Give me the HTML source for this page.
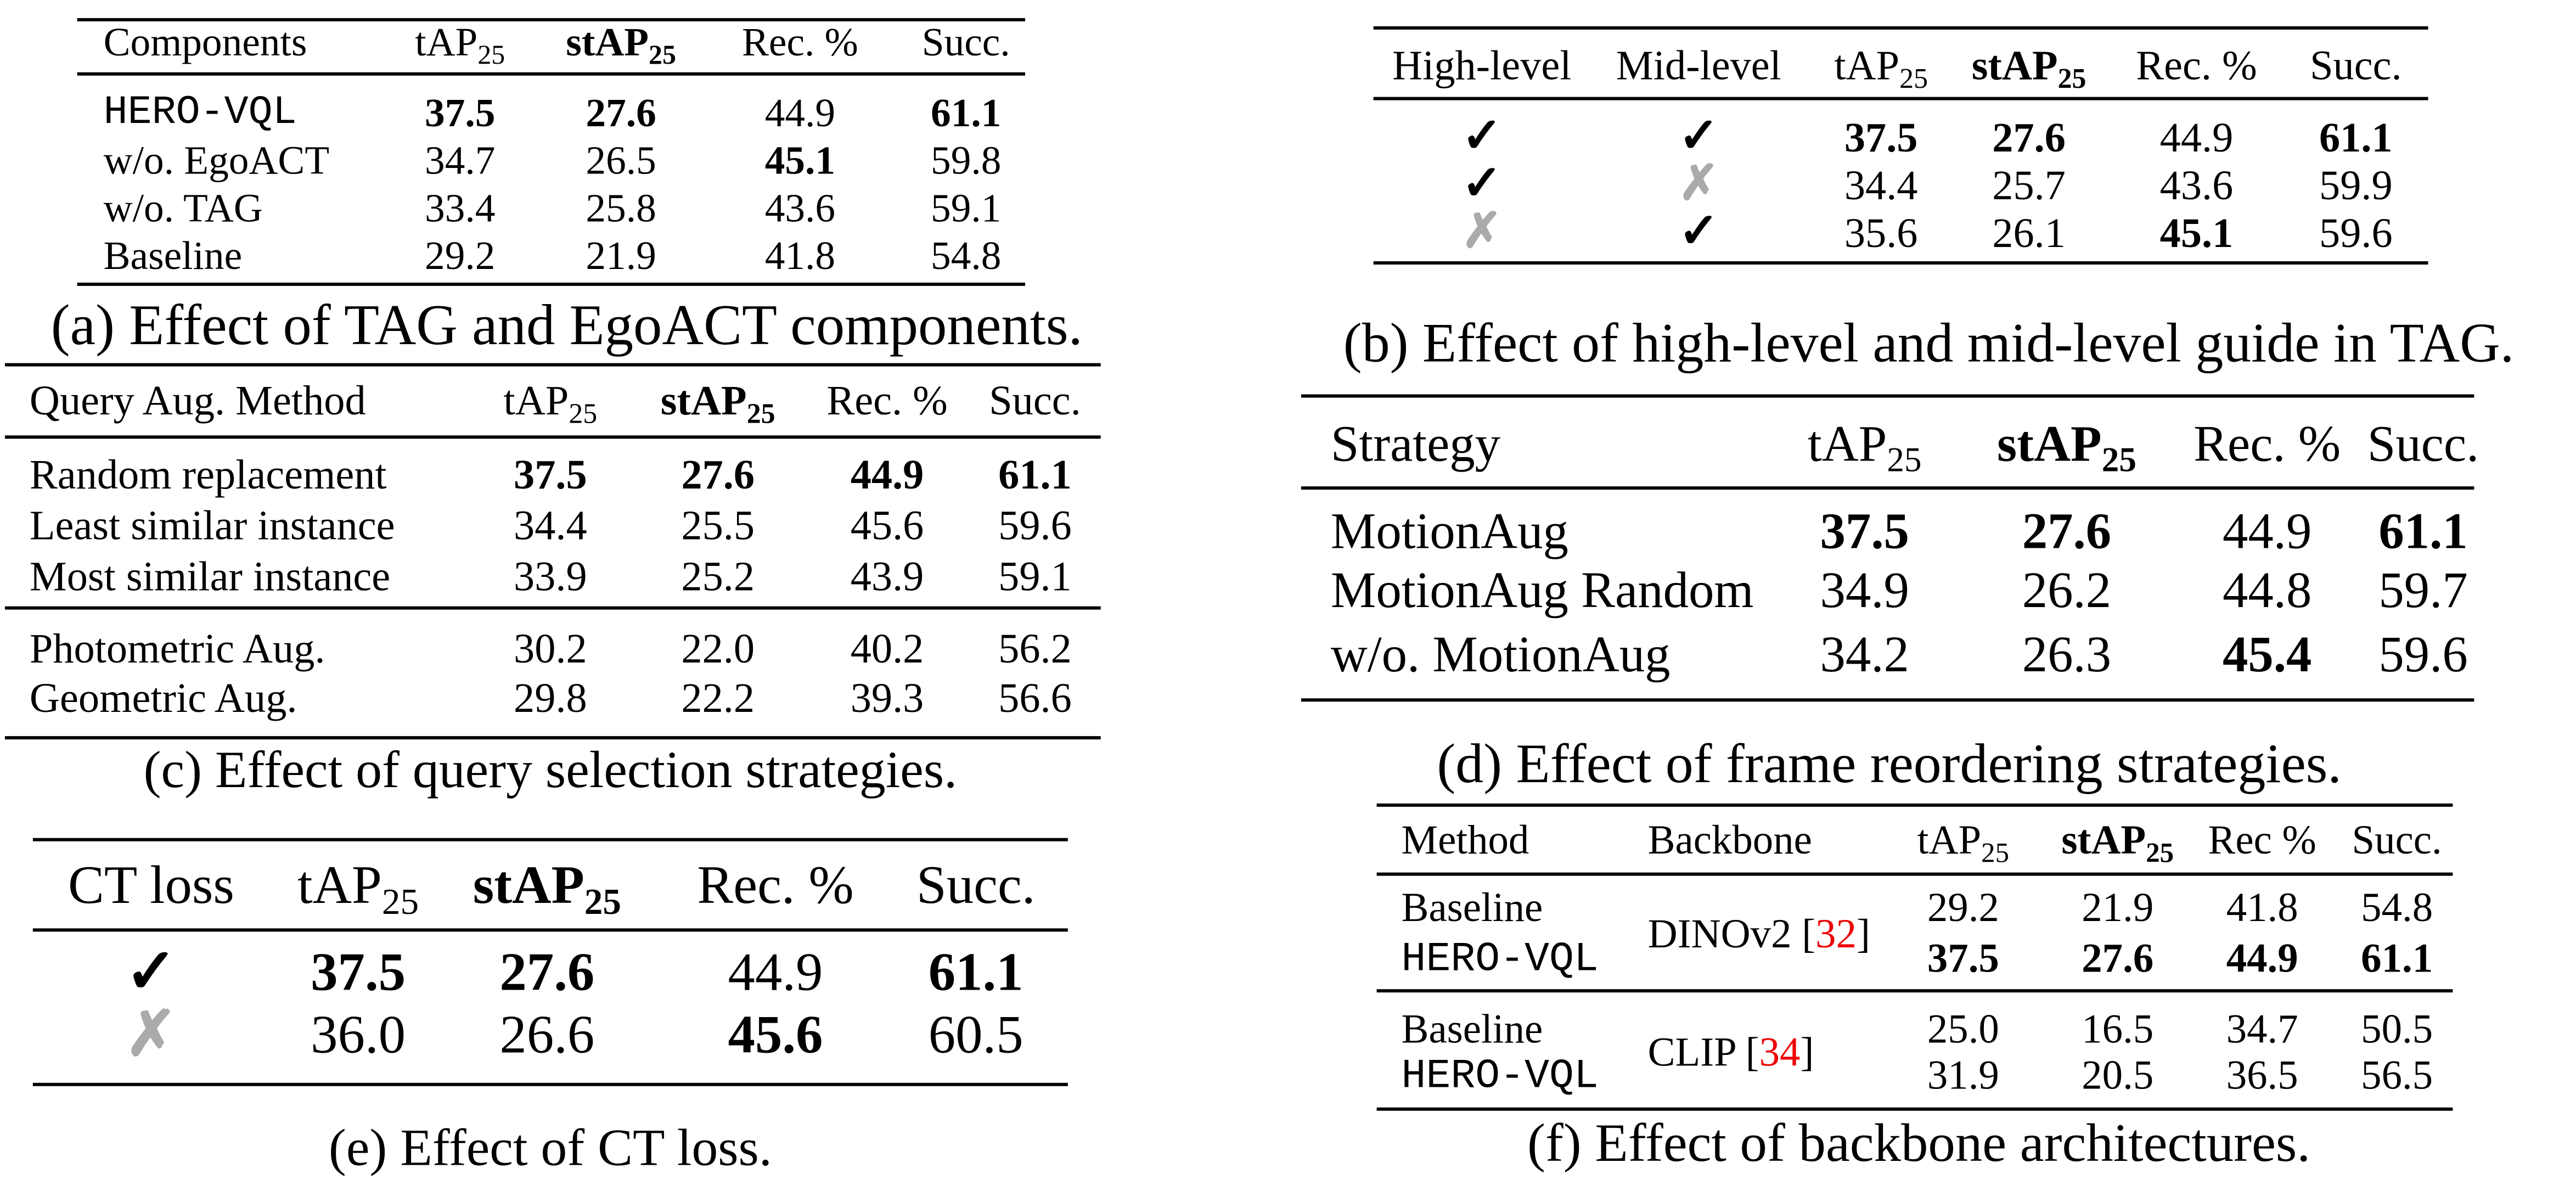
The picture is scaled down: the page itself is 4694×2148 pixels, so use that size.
<!DOCTYPE html>
<html><head><meta charset="utf-8">
<style>
html,body{margin:0;padding:0;background:#fff;}
body{width:4694px;height:2148px;overflow:hidden;position:relative;}
#stage{position:absolute;left:0;top:0;width:1568px;height:717px;transform-origin:0 0;transform:scale(2.9936);font-family:"Liberation Serif",serif;color:#000;}
.t{position:absolute;white-space:nowrap;line-height:1;}
.c{transform:translate(-50%,-50%);}
.l{transform:translateY(-50%);}
.mono{font-family:"Liberation Mono",monospace;font-size:0.9em;}
.rule{position:absolute;background:#000;}
sub{font-size:0.68em;vertical-align:-0.3em;line-height:0;}
.x{color:#aaa;}
.ck{font-weight:bold;font-size:1.15em;}
.red{color:#e00;}
</style></head>
<body>
<div id="stage"></div>
<script>
const stage=document.getElementById('stage');
const T='tAP<sub>25</sub>', S='<b>stAP<sub>25</sub></b>';
const CK='<span class="ck">✓</span>', XX='<span class="ck x">✗</span>';
function txt(x,y,html,fs,align,name,extra){
  const el=document.createElement('div');
  el.className='t '+(align==='c'?'c':'l')+(extra?' '+extra:'');
  el.style.left=x+'px';el.style.top=y+'px';el.style.fontSize=fs+'px';
  el.innerHTML=html;
  
  
  stage.appendChild(el);return el;
}
function rule(x1,x2,y,h,name){
  const el=document.createElement('div');
  el.className='rule';
  el.style.left=x1+'px';el.style.width=(x2-x1)+'px';el.style.top=(y-h/2)+'px';el.style.height=h+'px';
  
  
  stage.appendChild(el);
}
function table(id,cfg){
  rule(cfg.x1,cfg.x2,cfg.rules[0],2.2,id+'-top-rule');
  for(let i=1;i<cfg.rules.length-1;i++) rule(cfg.x1,cfg.x2,cfg.rules[i],1.1,id+'-mid-rule');
  rule(cfg.x1,cfg.x2,cfg.rules[cfg.rules.length-1],2.2,id+'-bottom-rule');
  cfg.header.forEach((h,j)=>txt(cfg.cols[j],cfg.hy,h,cfg.fs,cfg.align[j],id+'-header-cell'));
  cfg.rows.forEach((r,i)=>r.forEach((v,j)=>{ if(v==='')return;
    const mono=cfg.mono&&cfg.mono[i]&&cfg.mono[i][j];
    txt(cfg.cols[j],cfg.ry[i],v,cfg.fs,cfg.align[j],id+'-cell',mono?'mono':'');}));
  txt(cfg.capx,cfg.capy,cfg.caption,cfg.capfs,'c',id+'-caption');
}
const b=s=>'<b>'+s+'</b>';
// (a)
const aRows=[['HERO-VQL',b('37.5'),b('27.6'),'44.9',b('61.1')],['w/o. EgoACT','34.7','26.5',b('45.1'),'59.8'],['w/o. TAG','33.4','25.8','43.6','59.1'],['Baseline','29.2','21.9','41.8','54.8']];
table('table-a',{x1:47,x2:624,rules:[12,45,173],fs:24.5,hy:27,ry:[70,99,128,157],cols:[63,280,378,487,588],align:['l','c','c','c','c'],
 header:['Components',T,S,'Rec. %','Succ.'],rows:aRows,mono:[[true]],capx:345,capy:198,capfs:35,caption:'(a) Effect of TAG and EgoACT components.'});
// (b)
const bRows=[[CK,CK,b('37.5'),b('27.6'),'44.9',b('61.1')],[CK,XX,'34.4','25.7','43.6','59.9'],[XX,CK,'35.6','26.1',b('45.1'),'59.6']];
table('table-b',{x1:836,x2:1478,rules:[17,60,160],fs:25.5,hy:40,ry:[84,113,142],cols:[902,1034,1145,1235,1337,1434],align:['c','c','c','c','c','c'],
 header:['High-level','Mid-level',T,S,'Rec. %','Succ.'],rows:bRows,capx:1174,capy:210,capfs:34,caption:'(b) Effect of high-level and mid-level guide in TAG.'});
// (c)
const cRows=[['Random replacement',b('37.5'),b('27.6'),b('44.9'),b('61.1')],['Least similar instance','34.4','25.5','45.6','59.6'],['Most similar instance','33.9','25.2','43.9','59.1'],['Photometric Aug.','30.2','22.0','40.2','56.2'],['Geometric Aug.','29.8','22.2','39.3','56.6']];
table('table-c',{x1:3,x2:670,rules:[222,266,370,449],fs:25.5,hy:244,ry:[289,320,351,395,425],cols:[18,335,437,540,630],align:['l','c','c','c','c'],
 header:['Query Aug. Method',T,S,'Rec. %','Succ.'],rows:cRows,capx:335,capy:468,capfs:32,caption:'(c) Effect of query selection strategies.'});
// (d)
const dRows=[['MotionAug',b('37.5'),b('27.6'),'44.9',b('61.1')],['MotionAug Random','34.9','26.2','44.8','59.7'],['w/o. MotionAug','34.2','26.3',b('45.4'),'59.6']];
table('table-d',{x1:792,x2:1506,rules:[241,297,426],fs:31,hy:270,ry:[323,359,398],cols:[810,1135,1258,1380,1475],align:['l','c','c','c','c'],
 header:['Strategy',T,S,'Rec. %','Succ.'],rows:dRows,capx:1150,capy:466,capfs:34,caption:'(d) Effect of frame reordering strategies.'});
// (e)
const eRows=[[CK,b('37.5'),b('27.6'),'44.9',b('61.1')],[XX,'36.0','26.6',b('45.6'),'60.5']];
table('table-e',{x1:20,x2:650,rules:[511,566,660],fs:33,hy:540,ry:[593,631],cols:[92,218,333,472,594],align:['c','c','c','c','c'],
 header:['CT loss',T,S,'Rec. %','Succ.'],rows:eRows,capx:335,capy:698,capfs:32,caption:'(e) Effect of CT loss.'});
// (f)
const fRows=[['Baseline','','29.2','21.9','41.8','54.8'],['HERO-VQL','',b('37.5'),b('27.6'),b('44.9'),b('61.1')],['Baseline','','25.0','16.5','34.7','50.5'],['HERO-VQL','','31.9','20.5','36.5','56.5']];
table('table-f',{x1:838,x2:1493,rules:[490,532,603,675],fs:25,hy:512,ry:[553,584,627,655],cols:[853,1003,1195,1289,1377,1459],align:['l','l','c','c','c','c'],
 header:['Method','Backbone',T,S,'Rec %','Succ.'],rows:fRows,mono:[null,[true],null,[true]],capx:1168,capy:697,capfs:33,caption:'(f) Effect of backbone architectures.'});
txt(1003,569,'DINOv2 [<span class="red">32</span>]',25,'l','backbone-dinov2');
txt(1003,641,'CLIP [<span class="red">34</span>]',25,'l','backbone-clip');
</script>
</body></html>
